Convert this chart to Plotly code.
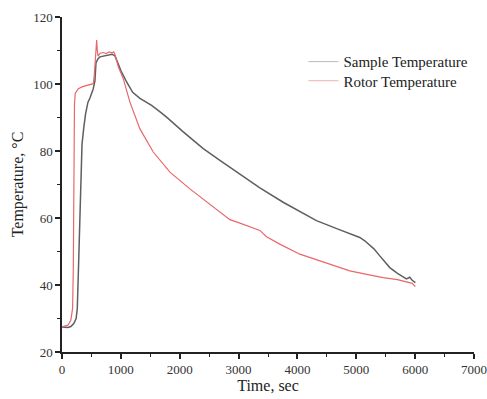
import plotly.graph_objects as go

sample_time = [0, 100, 150, 200, 240, 260, 280, 300, 320, 340, 370, 400, 440, 475, 530, 560, 577, 610, 645, 750, 850,
               900, 1000, 1098, 1200, 1324, 1420, 1522, 1650, 1777, 2060, 2400, 2683, 2909, 3192, 3362, 3757,
               4000, 4323, 4700, 5059, 5144, 5300, 5399, 5569, 5700, 5852, 5908, 5950, 6004]
sample_temp = [27.5, 27.3, 27.6, 28.5, 30, 33, 45, 60, 75, 82, 87, 91, 94.5, 95.8, 98.5, 101, 106.3, 107.5, 108.1, 108.5, 108.9,
               108.4, 104, 100.6, 97.5, 95.7, 94.8, 93.6, 91.9, 90.1, 85.7, 80.7, 77.2, 74.4, 70.9, 69.0, 64.7,
               62.3, 59.2, 56.6, 54.2, 53.2, 50.8, 48.7, 45.2, 43.5, 41.8, 42.3, 41.4, 40.7]

rotor_time = [0, 100, 150, 180, 192, 198, 204, 212, 225, 277, 350, 450, 532, 550, 577, 589, 600, 612, 625,
              650, 700, 750, 800, 850, 880, 900, 960, 1041, 1154, 1324, 1550, 1834, 2173, 2513, 2852, 3000, 3192, 3362,
              3475, 3700, 4041, 4500, 4890, 5200, 5456, 5700, 5852, 5950, 6004]
rotor_temp = [27.5, 28, 29.5, 33, 45, 65, 85, 94, 97.2, 98.6, 99.2, 99.6, 100.1, 103, 109.1, 113.1, 110, 108.3, 108.6,
              109.2, 109.4, 109.1, 109.6, 109.3, 109.6, 108.8, 105, 101.6, 94.6, 86.6, 79.7, 73.7, 68.7, 64.2, 59.5, 58.6, 57.4, 56.3,
              54.4, 52.2, 49.2, 46.5, 44.2, 43.1, 42.2, 41.6, 41.0, 40.5, 39.5]

x_ticks = [0, 1000, 2000, 3000, 4000, 5000, 6000, 7000]
y_ticks = [20, 40, 60, 80, 100, 120]

FONT = "Liberation Serif, Times New Roman, serif"

fig = go.Figure()
fig.add_trace(go.Scatter(x=sample_time, y=sample_temp, mode="lines", name="Sample Temperature",
                         line=dict(color="#5f5f5f", width=1.5), showlegend=False))
fig.add_trace(go.Scatter(x=rotor_time, y=rotor_temp, mode="lines", name="Rotor Temperature",
                         line=dict(color="#e8686a", width=1.2), showlegend=False))
# legend entries (lighter, thin lines as in the reference legend)
fig.add_trace(go.Scatter(x=[None], y=[None], mode="lines", name="Sample Temperature",
                         line=dict(color="#b8b8b8", width=1), legend="legend"))
fig.add_trace(go.Scatter(x=[None], y=[None], mode="lines", name="Rotor Temperature",
                         line=dict(color="#f0b0b0", width=1), legend="legend2"))

axis_common = dict(showline=True, linecolor="#222", linewidth=1.5, showgrid=False, zeroline=False,
                   ticks="outside", ticklen=5, tickwidth=1.5, tickcolor="#222", automargin=False,
                   ticklabeloverflow="allow",
                   tickfont=dict(family=FONT, size=13, color="#333"), mirror=False)

fig.update_xaxes(range=[0, 7000], tickvals=x_ticks, ticktext=[str(v) for v in x_ticks],
                 title=dict(text="Time, sec", font=dict(family=FONT, size=16, color="#222"), standoff=0),
                 minor=dict(ticks="outside", ticklen=3, tickwidth=1.2, tickcolor="#222", dtick=500, tick0=0),
                 **axis_common)
fig.update_yaxes(range=[20, 120], tickvals=y_ticks, ticktext=[str(v) for v in y_ticks],
                 title=dict(text="Temperature, °C", font=dict(family=FONT, size=16, color="#222"), standoff=6),
                 minor=dict(ticks="outside", ticklen=3, tickwidth=1.2, tickcolor="#222", dtick=10, tick0=20),
                 **axis_common)

leg_common = dict(xanchor="left", yanchor="middle", bgcolor="rgba(0,0,0,0)",
                  font=dict(family=FONT, size=15, color="#222"), itemwidth=30)
fig.update_layout(
    width=487, height=399,
    margin=dict(l=62, r=13, t=17, b=47),
    paper_bgcolor="white", plot_bgcolor="white",
    font=dict(family=FONT, color="#222"),
    legend=dict(x=0.586, y=0.866, **leg_common),
    legend2=dict(x=0.586, y=0.809, **leg_common),
)

fig.write_html("out.html", config={"displayModeBar": False},
               post_script="document.body.style.margin='0';document.body.style.overflow='hidden';")
